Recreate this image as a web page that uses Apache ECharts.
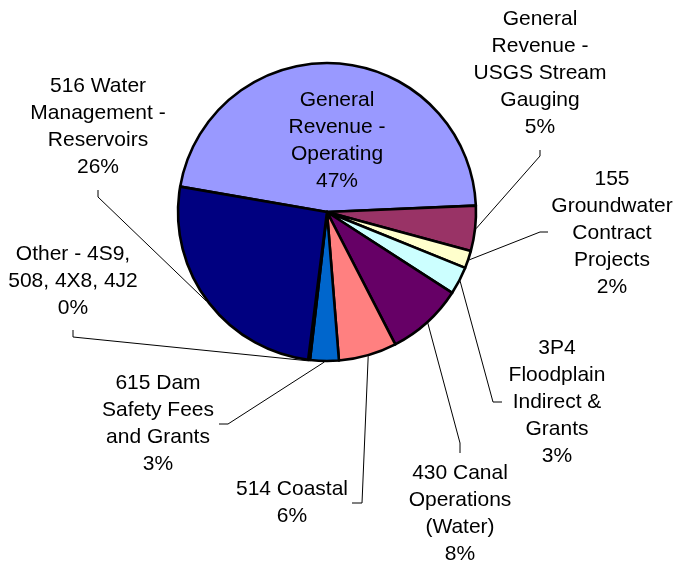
<!DOCTYPE html>
<html>
<head>
<meta charset="utf-8">
<script src="https://cdn.jsdelivr.net/npm/echarts@6/dist/echarts.min.js"></script>
<style>
html,body{margin:0;padding:0;background:#fff;}
#chart{width:675px;height:565px;}
</style>
</head>
<body>
<div id="chart"></div>
<script>
// Categories (line breaks as shown in the reference labels)
var categories = [
  'General\nRevenue -\nOperating',
  'General\nRevenue -\nUSGS Stream\nGauging',
  '155\nGroundwater\nContract\nProjects',
  '3P4\nFloodplain\nIndirect &\nGrants',
  '430 Canal\nOperations\n(Water)',
  '514 Coastal',
  '615 Dam\nSafety Fees\nand Grants',
  'Other - 4S9,\n508, 4X8, 4J2',
  '516 Water\nManagement -\nReservoirs'
];
// Shares (percent)
var values = [46.6, 4.9, 1.9, 3.0, 8.3, 6.3, 3.1, 0.2, 25.7];
var colors = ['#9999FF', '#993366', '#FFFFCC', '#CCFFFF', '#660066', '#FF8080', '#0066CC', '#CCCCFF', '#000080'];

// Label layout (centre of text block) and leader-line bend / end points
var labelPos = [[337, 141], [540, 73], [612, 233], [557, 402], [460, 514], [292, 503], [158, 424], [73, 281], [98, 127]];
var lineBend = [null, [540, 156], [540, 232], [493, 402], [460, 443], [362, 503], [228, 424], [73, 337], [98, 197]];
var lineEnd  = [null, [540, 150], [548, 232], [502, 402], [460, 453], [352, 503], [219, 424], [73, 330], [98, 190]];

var CX = 327, CY = 212, R = 149, START = 170.2;

var total = values.reduce(function (a, b) { return a + b; }, 0);
function edgePoint(idx) {
  var cum = 0;
  for (var i = 0; i < idx; i++) cum += values[i];
  var mid = START - (cum + values[idx] / 2) / total * 360;
  var rad = mid * Math.PI / 180;
  return [CX + (R + 1) * Math.cos(rad), CY - (R + 1) * Math.sin(rad)];
}

var data = categories.map(function (c, i) {
  var d = { name: c, value: values[i], itemStyle: { color: colors[i] } };
  if (i === 0) {
    d.label = { position: 'inside' };
    d.labelLine = { show: false };
  }
  return d;
});

var chart = echarts.init(document.getElementById('chart'));
chart.setOption({
  animation: false,
  backgroundColor: '#ffffff',
  series: [{
    type: 'pie',
    center: [CX, CY],
    radius: R,
    startAngle: START,
    clockwise: true,
    avoidLabelOverlap: false,
    silent: true,
    data: data,
    itemStyle: { borderColor: '#000', borderWidth: 2.6 },
    label: {
      show: true,
      position: 'outside',
      fontFamily: 'Liberation Sans, Arial, sans-serif',
      fontSize: 21,
      lineHeight: 27,
      color: '#000',
      align: 'center',
      formatter: function (p) {
        return p.name + '\n' + Math.round(p.percent) + '%';
      }
    },
    labelLine: {
      show: true,
      length: 10,
      length2: 10,
      lineStyle: { color: '#000', width: 1 }
    },
    labelLayout: function (p) {
      var i = p.dataIndex;
      var res = { x: labelPos[i][0], y: labelPos[i][1], align: 'center', verticalAlign: 'middle' };
      if (lineBend[i]) {
        res.labelLinePoints = [edgePoint(i), lineBend[i], lineEnd[i]];
      }
      return res;
    }
  }]
});
</script>
</body>
</html>
